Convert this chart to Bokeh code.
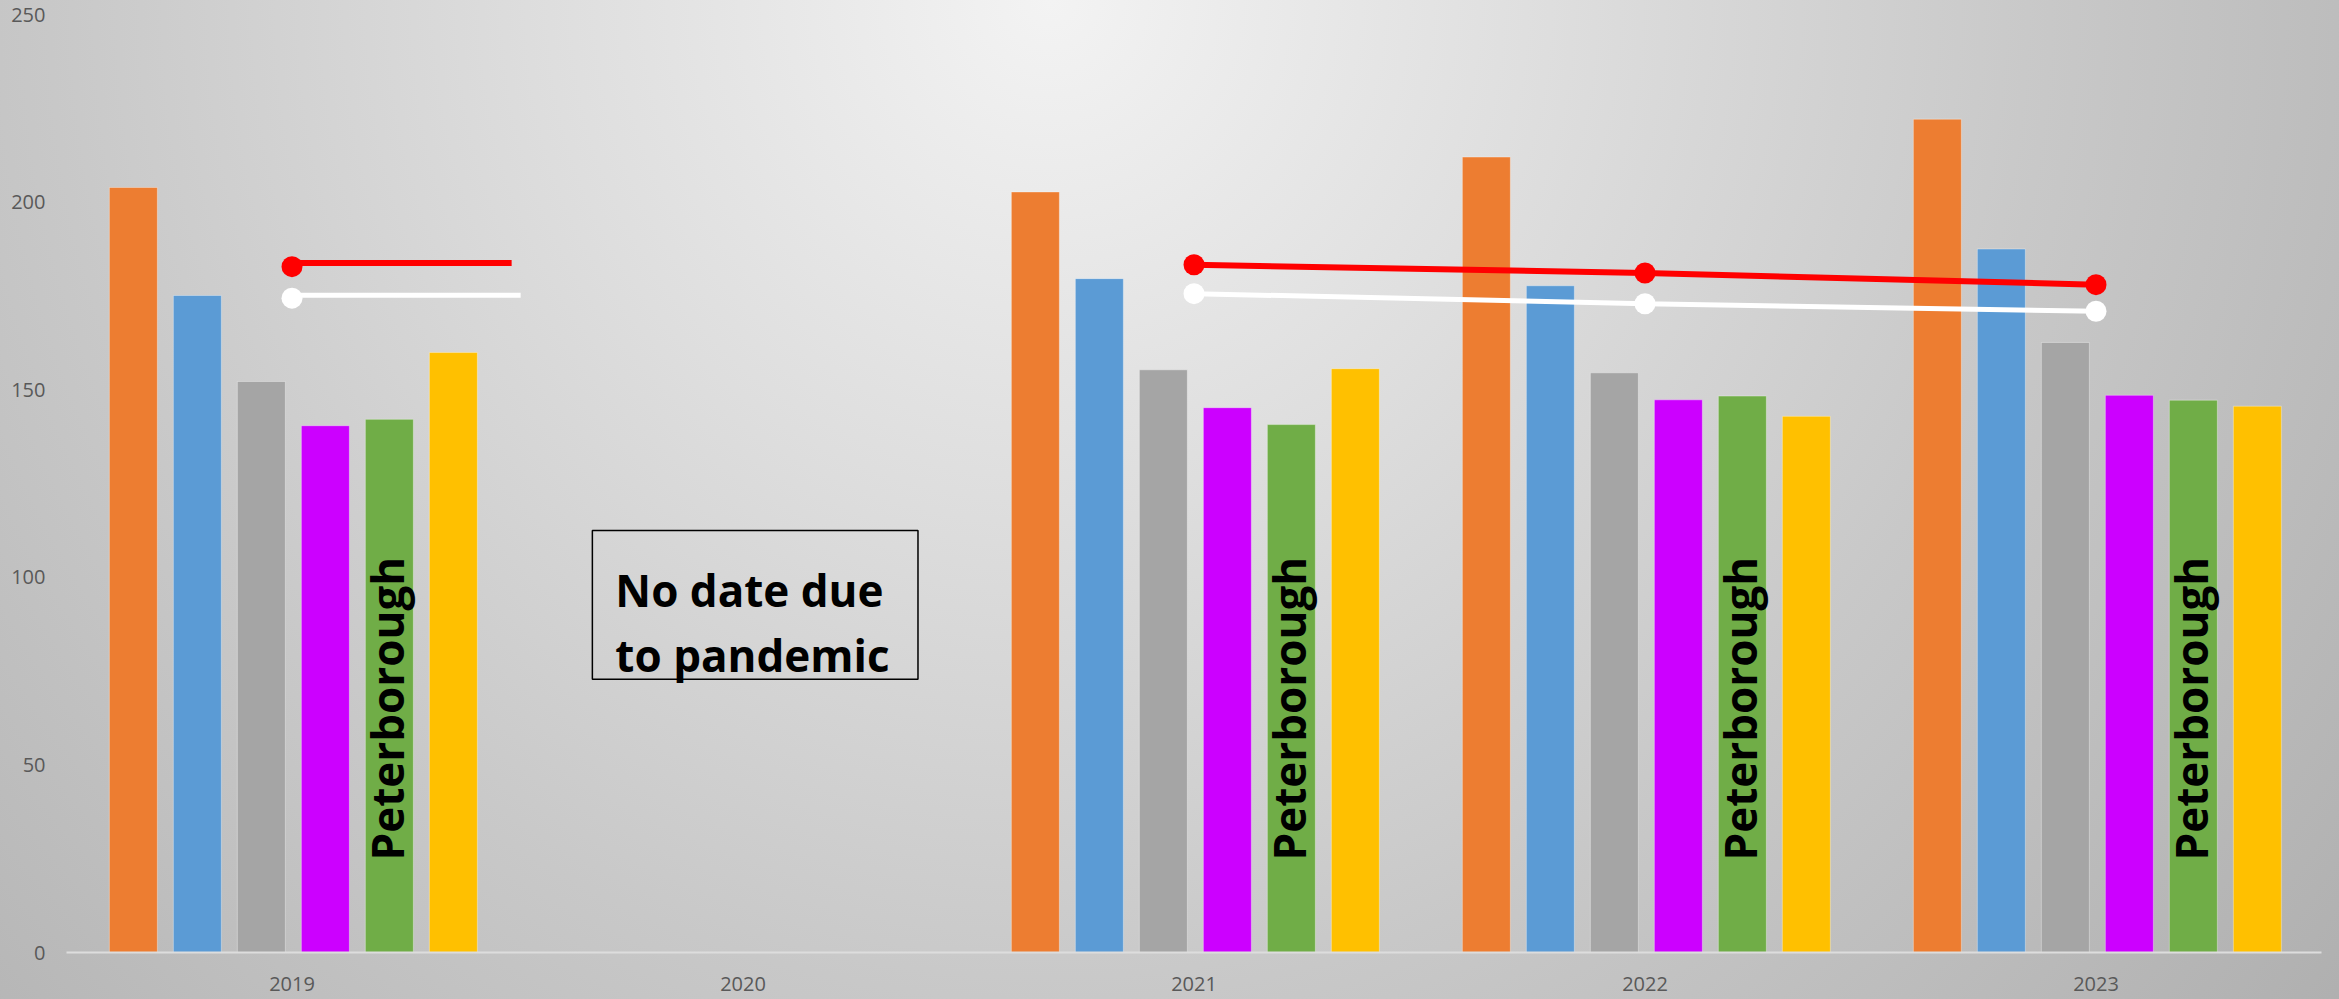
import math
from bokeh.plotting import figure
from bokeh.models import ColumnDataSource, FixedTicker, BoxAnnotation, Range1d
from bokeh.core.properties import value
from bokeh.embed import file_html
from bokeh.resources import INLINE

# ---------------- data ----------------
years = ["2019", "2020", "2021", "2022", "2023"]
series_names = ["Series A", "Series B", "Series C", "Series D", "Peterborough", "Series F"]
series_colors = ["#ED7D31", "#5B9BD5", "#A5A5A5", "#CC00FF", "#70AD47", "#FFC000"]
nan = float("nan")
orange_vals = [203.9, nan, 202.7, 212.0, 222.1]
blue_vals = [175.1, nan, 179.6, 177.7, 187.5]
gray_vals = [152.2, nan, 155.3, 154.5, 162.6]
magenta_vals = [140.4, nan, 145.2, 147.3, 148.5]
green_vals = [142.1, nan, 140.7, 148.3, 147.2]
yellow_vals = [159.9, nan, 155.6, 142.9, 145.6]
bar_series = [orange_vals, blue_vals, gray_vals, magenta_vals, green_vals, yellow_vals]

red_line_vals = [182.8, nan, 183.3, 181.1, 178.0]
white_line_vals = [174.4, nan, 175.6, 172.9, 170.9]
red_2019_stub = [183.8, 183.8]
white_2019_stub = [175.2, 175.2]

y_ticks = [0, 50, 100, 150, 200, 250]
label_text = "Peterborough"
label_years = ["2019", "2021", "2022", "2023"]
label_y = 65
note_lines = ["No date due", "to pandemic"]

# ---------------- layout constants ----------------
slot = 64 / 451.0
bar_w = 48 / 451.0

p = figure(width=2339, height=999, x_range=Range1d(-0.5, 4.5), y_range=Range1d(0, 250),
           output_backend="svg", toolbar_location=None,
           min_border_left=66, min_border_right=18, min_border_top=14, min_border_bottom=47)
p.styles = {"background": "radial-gradient(circle at 1050px 0px, #f3f3f3 0px, #dedede 500px, #c8c8c8 1000px, #afafaf 1650px)"}
p.background_fill_color = None
p.border_fill_color = None
p.outline_line_color = None
p.xgrid.grid_line_color = None
p.ygrid.grid_line_color = None

# bars
for j, (vals, col) in enumerate(zip(bar_series, series_colors)):
    xs, tops = [], []
    for i, v in enumerate(vals):
        if not math.isnan(v):
            xs.append(i + (j - 2.5) * slot + 0.003)
            tops.append(v)
    src = ColumnDataSource(dict(x=xs, top=tops))
    p.vbar(x="x", top="top", bottom=0, width=bar_w, source=src, fill_color=col,
           line_color="white", line_alpha=0.35, line_width=1)

# lines
xi = list(range(len(years)))
p.line(xi, red_line_vals, line_color="#FF0000", line_width=6)
p.line(xi, white_line_vals, line_color="#FFFFFF", line_width=5)
p.line([0, 0.487], red_2019_stub, line_color="#FF0000", line_width=6)
p.line([0, 0.507], white_2019_stub, line_color="#FFFFFF", line_width=5)
mx = [i for i, v in enumerate(red_line_vals) if not math.isnan(v)]
p.scatter(mx, [red_line_vals[i] for i in mx], size=21, fill_color="#FF0000", line_color=None)
mxw = [i for i, v in enumerate(white_line_vals) if not math.isnan(v)]
p.scatter(mxw, [white_line_vals[i] for i in mxw], size=21, fill_color="#FFFFFF", line_color=None)

# Peterborough labels on green bars
gx = [years.index(y) + (4 - 2.5) * slot - 0.003 for y in label_years]
p.text(x=gx, y=[label_y] * len(gx), text=[label_text] * len(gx), angle=math.pi / 2,
       text_align="center", text_baseline="middle", text_font=value("Open Sans"),
       text_font_style="bold", text_font_size="44px", text_color="#000000")

# note box
box = BoxAnnotation(left=0.666, right=1.388, top=112.5, bottom=72.8,
                    fill_alpha=0, line_color="#000000", line_alpha=1, line_width=1.5)
p.add_layout(box)
p.text(x=[0.717, 0.717], y=[96.7, 79.4], text=note_lines, text_align="left",
       text_baseline="alphabetic", text_font=value("Open Sans"), text_font_style="bold",
       text_font_size="44px", text_color="#000000")

# axes
p.xaxis.ticker = FixedTicker(ticks=xi)
p.xaxis.major_label_overrides = {i: y for i, y in enumerate(years)}
p.xaxis.axis_line_color = "#dddddd"
p.xaxis.axis_line_width = 2
p.xaxis.major_tick_line_color = None
p.xaxis.minor_tick_line_color = None
p.xaxis.major_tick_out = 0
p.xaxis.major_tick_in = 0
p.xaxis.major_label_standoff = 24
p.xaxis.major_label_text_line_height = 0.8
p.xaxis.major_label_text_font = "Open Sans"
p.xaxis.major_label_text_font_size = "20px"
p.xaxis.major_label_text_color = "#595959"

p.yaxis.ticker = FixedTicker(ticks=y_ticks)
p.yaxis.axis_line_color = None
p.yaxis.major_tick_line_color = None
p.yaxis.minor_tick_line_color = None
p.yaxis.major_tick_out = 0
p.yaxis.major_tick_in = 0
p.yaxis.major_label_standoff = 21
p.yaxis.major_label_text_font = "Open Sans"
p.yaxis.major_label_text_font_size = "20px"
p.yaxis.major_label_text_color = "#595959"

open("out.html", "w").write(file_html(p, INLINE))
